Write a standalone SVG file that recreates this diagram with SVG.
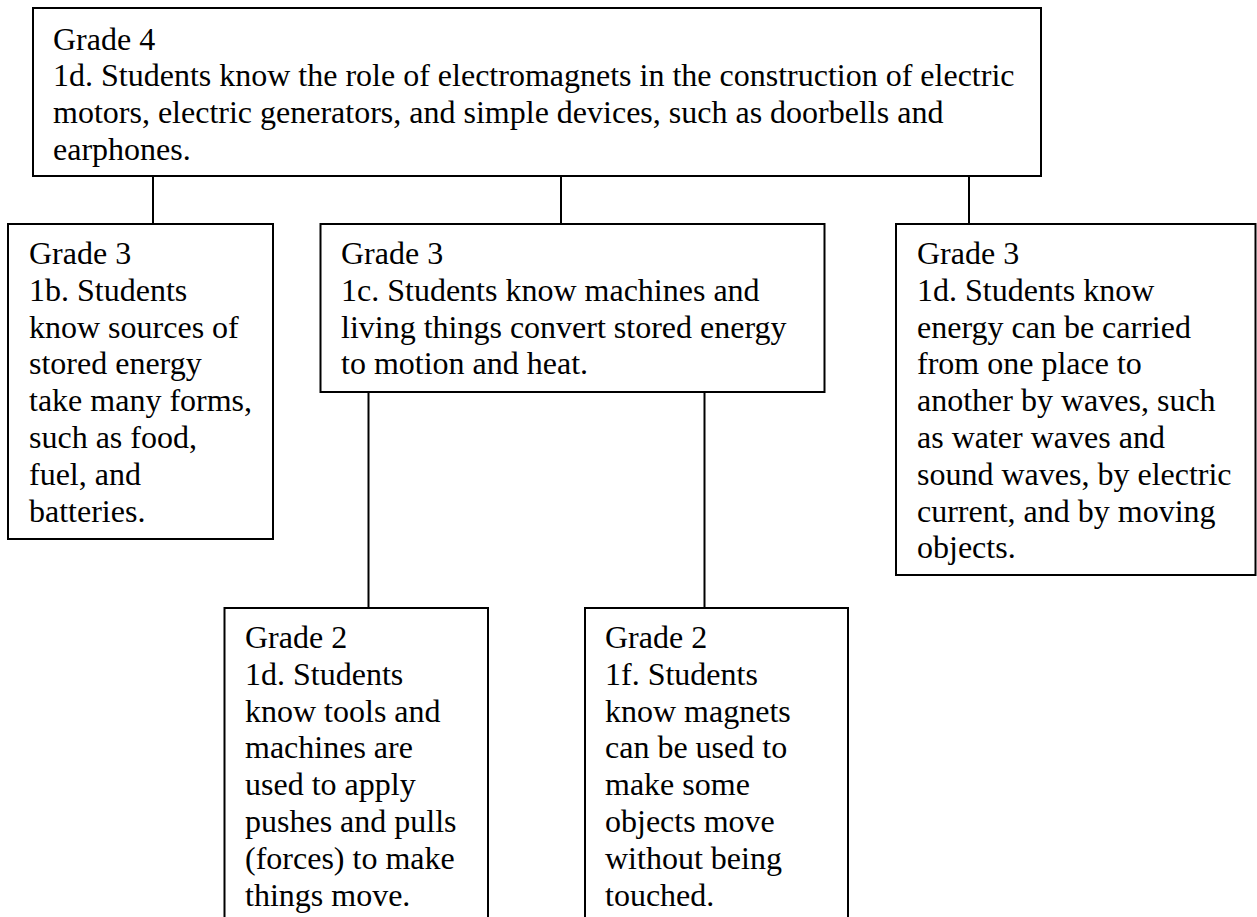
<svg xmlns="http://www.w3.org/2000/svg" width="1257" height="917" viewBox="0 0 1257 917">
  <style>
    .box { fill: #ffffff; stroke: #000000; stroke-width: 2; }
    .link { fill: none; stroke: #000000; stroke-width: 2; }
    .txt { font-family: "Liberation Serif", "Times New Roman", serif; font-size: 32px; fill: #000000; }
  </style>
  <rect x="0" y="0" width="1257" height="917" fill="#ffffff"/>

  <!-- connectors between standards -->
  <g id="connectors">
    <line class="link" x1="153" y1="176" x2="153" y2="224"/>
    <line class="link" x1="561" y1="176" x2="561" y2="224"/>
    <line class="link" x1="969" y1="176" x2="969" y2="224"/>
    <line class="link" x1="368.5" y1="392" x2="368.5" y2="608"/>
    <line class="link" x1="704.5" y1="392" x2="704.5" y2="608"/>
  </g>

  <!-- Grade 4 standard 1d -->
  <g id="g4-1d">
    <rect class="box" x="33" y="8" width="1008" height="168"/>
    <text class="txt">
      <tspan x="53" y="49.5">Grade 4</tspan>
      <tspan x="53" y="86.3">1d. Students know the role of electromagnets in the construction of electric</tspan>
      <tspan x="53" y="123.1">motors, electric generators, and simple devices, such as doorbells and</tspan>
      <tspan x="53" y="159.9">earphones.</tspan>
    </text>
  </g>

  <!-- Grade 3 standard 1b -->
  <g id="g3-1b">
    <rect class="box" x="8" y="224" width="265" height="315"/>
    <text class="txt">
      <tspan x="29" y="264">Grade 3</tspan>
      <tspan x="29" y="300.8">1b. Students</tspan>
      <tspan x="29" y="337.6">know sources of</tspan>
      <tspan x="29" y="374.4">stored energy</tspan>
      <tspan x="29" y="411.2">take many forms,</tspan>
      <tspan x="29" y="448">such as food,</tspan>
      <tspan x="29" y="484.8">fuel, and</tspan>
      <tspan x="29" y="521.6">batteries.</tspan>
    </text>
  </g>

  <!-- Grade 3 standard 1c -->
  <g id="g3-1c">
    <rect class="box" x="320.5" y="224" width="504" height="168"/>
    <text class="txt">
      <tspan x="341" y="264">Grade 3</tspan>
      <tspan x="341" y="300.8">1c. Students know machines and</tspan>
      <tspan x="341" y="337.6">living things convert stored energy</tspan>
      <tspan x="341" y="374.4">to motion and heat.</tspan>
    </text>
  </g>

  <!-- Grade 3 standard 1d -->
  <g id="g3-1d">
    <rect class="box" x="896" y="224" width="359.5" height="351"/>
    <text class="txt">
      <tspan x="917" y="264">Grade 3</tspan>
      <tspan x="917" y="300.8">1d. Students know</tspan>
      <tspan x="917" y="337.6">energy can be carried</tspan>
      <tspan x="917" y="374.4">from one place to</tspan>
      <tspan x="917" y="411.2">another by waves, such</tspan>
      <tspan x="917" y="448">as water waves and</tspan>
      <tspan x="917" y="484.8">sound waves, by electric</tspan>
      <tspan x="917" y="521.6">current, and by moving</tspan>
      <tspan x="917" y="558.4">objects.</tspan>
    </text>
  </g>

  <!-- Grade 2 standard 1d -->
  <g id="g2-1d">
    <rect class="box" x="224.5" y="608" width="263.5" height="330"/>
    <text class="txt">
      <tspan x="245" y="648">Grade 2</tspan>
      <tspan x="245" y="684.8">1d. Students</tspan>
      <tspan x="245" y="721.6">know tools and</tspan>
      <tspan x="245" y="758.4">machines are</tspan>
      <tspan x="245" y="795.2">used to apply</tspan>
      <tspan x="245" y="832">pushes and pulls</tspan>
      <tspan x="245" y="868.8">(forces) to make</tspan>
      <tspan x="245" y="905.6">things move.</tspan>
    </text>
  </g>

  <!-- Grade 2 standard 1f -->
  <g id="g2-1f">
    <rect class="box" x="585" y="608" width="263" height="330"/>
    <text class="txt">
      <tspan x="605" y="648">Grade 2</tspan>
      <tspan x="605" y="684.8">1f. Students</tspan>
      <tspan x="605" y="721.6">know magnets</tspan>
      <tspan x="605" y="758.4">can be used to</tspan>
      <tspan x="605" y="795.2">make some</tspan>
      <tspan x="605" y="832">objects move</tspan>
      <tspan x="605" y="868.8">without being</tspan>
      <tspan x="605" y="905.6">touched.</tspan>
    </text>
  </g>
</svg>
